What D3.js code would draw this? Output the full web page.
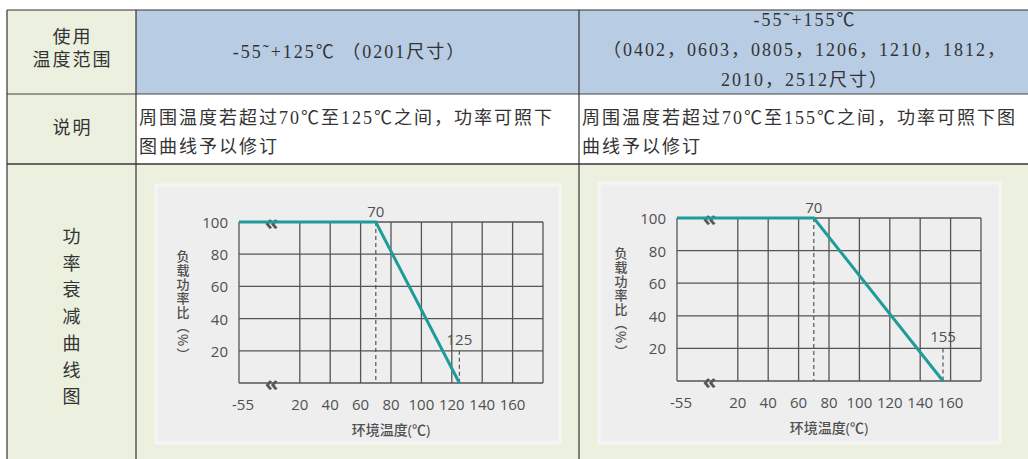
<!DOCTYPE html>
<html>
<head>
<meta charset="utf-8">
<script src="https://cdn.jsdelivr.net/npm/d3@7"></script>
<style>
  html, body { margin: 0; padding: 0; background: #fff; }
  svg { display: block; }
</style>
</head>
<body>
<div class="stage"></div>
<script>
// table text
var rowHeads = [["使用", "温度范围"], ["说明"], ["功","率","衰","减","曲","线","图"]];
var rangeHeads = [
  ["-55˜+125℃ （0201尺寸）"],
  ["-55˜+155℃", "（0402，0603，0805，1206，1210，1812，", "2010，2512尺寸）"]
];
var notes = [
  ["周围温度若超过70℃至125℃之间，功率可照下", "图曲线予以修订"],
  ["周围温度若超过70℃至155℃之间，功率可照下图", "曲线予以修订"]
];

// chart values
var xGrid = [-55, 20, 40, 60, 80, 100, 120, 140, 160, 180];
var xTicks = [-55, 20, 40, 60, 80, 100, 120, 140, 160];
var yGrid = [0, 20, 40, 60, 80, 100];
var yTicks = [20, 40, 60, 80, 100];
var kneeTemp = 70;
var breakTemp = -15;
var curve125 = [{t: -55, p: 100}, {t: 70, p: 100}, {t: 125, p: 0}];
var curve155 = [{t: -55, p: 100}, {t: 70, p: 100}, {t: 155, p: 0}];
var yTitle = "负载功率比（%）";
var xTitle = "环境温度(℃)";

var W = 1028, H = 459;
var tableFont = "'Liberation Serif', 'Noto Sans CJK SC', serif";
var chartFont = "'Open Sans', 'Noto Sans CJK SC', sans-serif";

var svg = d3.select(".stage").append("svg")
  .attr("width", W).attr("height", H);

// columns and rows of the table
var colX = [7, 136, 579, 1031];
var rowY = [10, 94, 164, 470];

// backgrounds
svg.append("rect").attr("x", colX[0]).attr("y", rowY[0])
  .attr("width", colX[1]-colX[0]).attr("height", rowY[3]-rowY[0]).attr("fill", "#ebf0df");
svg.append("rect").attr("x", colX[1]).attr("y", rowY[0])
  .attr("width", colX[3]-colX[1]).attr("height", rowY[1]-rowY[0]).attr("fill", "#b8cce4");
svg.append("rect").attr("x", colX[1]).attr("y", rowY[2])
  .attr("width", colX[3]-colX[1]).attr("height", rowY[3]-rowY[2]).attr("fill", "#ecf1df");

// grid lines of the table
svg.append("line").attr("x1", colX[0]).attr("x2", W).attr("y1", rowY[0]).attr("y2", rowY[0])
  .attr("stroke", "#333").attr("stroke-width", 1.2);
svg.append("line").attr("x1", colX[0]).attr("x2", W).attr("y1", rowY[1]).attr("y2", rowY[1])
  .attr("stroke", "#444").attr("stroke-width", 1.2);
svg.append("line").attr("x1", colX[0]).attr("x2", W).attr("y1", rowY[2]).attr("y2", rowY[2])
  .attr("stroke", "#666").attr("stroke-width", 2);
colX.slice(0, 3).forEach(function(x){
  svg.append("line").attr("x1", x).attr("x2", x).attr("y1", rowY[0]).attr("y2", H)
    .attr("stroke", "#333").attr("stroke-width", 1.2);
});

function tableText(x, y, s, anchor){
  return svg.append("text").attr("x", x).attr("y", y)
    .attr("text-anchor", anchor || "middle").attr("font-size", 18).attr("fill", "#333")
    .attr("letter-spacing", 2)
    .attr("font-family", tableFont).text(s);
}

var cx0 = (colX[0] + colX[1]) / 2 + 1;
// row heads
rowHeads[0].forEach(function(s, i){ tableText(cx0, 43 + i*23, s) });
tableText(cx0, 134, rowHeads[1][0]);
rowHeads[2].forEach(function(s, i){
  tableText(cx0, 237 + i*26.7, s).attr("dominant-baseline", "central");
});

// range heads
rangeHeads.forEach(function(lines, c){
  var mid = (colX[c+1] + colX[c+2]) / 2;
  var top = lines.length == 1 ? 58 : 26;
  lines.forEach(function(s, i){
    tableText(mid + (c == 0 ? -8 : 0), top + i*30, s);
  });
});

// notes
notes.forEach(function(lines, c){
  lines.forEach(function(s, i){
    tableText(colX[c+1] + 3, 124 + i*29, s, "start");
  });
});

// charts
drawChart({panel: [156, 185, 404, 258], plot: [239, 543, 222, 383], curve: curve125});
drawChart({panel: [599, 183, 401, 260], plot: [677, 981, 218, 381], curve: curve155});

function drawChart(o){
  var g = svg.append("g");
  g.append("rect")
    .attr("x", o.panel[0]).attr("y", o.panel[1])
    .attr("width", o.panel[2]).attr("height", o.panel[3])
    .attr("fill", "#eeeeee").attr("stroke", "#f5f5f5").attr("stroke-width", 3);

  var p = o.plot;
  var cell = (p[1] - p[0]) / (xGrid.length);
  var x = d3.scaleLinear().domain([-55, 20, 180]).range([p[0], p[0] + 2*cell, p[1]]);
  var y = d3.scaleLinear().domain([0, 100]).range([p[3], p[2]]);

  g.selectAll(".vg").data(xGrid).enter().append("line")
    .attr("x1", x).attr("x2", x).attr("y1", y(0)).attr("y2", y(100))
    .attr("stroke", "#555").attr("stroke-width", 1.3);
  g.selectAll(".hg").data(yGrid).enter().append("line")
    .attr("x1", x(-55)).attr("x2", x(180))
    .attr("y1", y).attr("y2", y)
    .attr("stroke", "#555").attr("stroke-width", 1.3);

  var end = o.curve[o.curve.length - 1].t;
  // dashed guides
  g.append("line").attr("x1", x(kneeTemp)).attr("x2", x(kneeTemp))
    .attr("y1", y(100)).attr("y2", y(0))
    .attr("stroke", "#555").attr("stroke-width", 1.2).attr("stroke-dasharray", "4,3");
  g.append("line").attr("x1", x(end)).attr("x2", x(end))
    .attr("y1", y(20)).attr("y2", y(0))
    .attr("stroke", "#555").attr("stroke-width", 1.2).attr("stroke-dasharray", "4,3");

  // axis break marks
  g.selectAll(".brk").data([0, 100]).enter().append("text")
    .attr("x", x(breakTemp)).attr("y", function(d){ return y(d) - 1 })
    .attr("dominant-baseline", "central").attr("text-anchor", "middle")
    .attr("font-size", 22).attr("font-weight", "bold").attr("fill", "#555")
    .attr("font-family", chartFont).text("«");

  // derating curve
  g.append("path").datum(o.curve)
    .attr("d", d3.line().x(function(d){ return x(d.t) }).y(function(d){ return y(d.p) }))
    .attr("fill", "none").attr("stroke", "#1e9c9a").attr("stroke-width", 3);

  // tick labels
  g.selectAll(".xt").data(xTicks).enter().append("text")
    .attr("x", function(d){ return x(d) + (d == -55 ? 4 : 0) }).attr("y", y(0) + 27)
    .attr("text-anchor", "middle").attr("font-size", 15).attr("font-weight", 500).attr("fill", "#505050")
    .attr("font-family", chartFont).text(function(d){ return d });
  g.selectAll(".yt").data(yTicks).enter().append("text")
    .attr("x", x(-55) - 11).attr("y", y).attr("dominant-baseline", "central")
    .attr("text-anchor", "end").attr("font-size", 15).attr("font-weight", 500).attr("fill", "#505050")
    .attr("font-family", chartFont).text(function(d){ return d });

  g.append("text").attr("x", x(kneeTemp)).attr("y", y(100) - 5)
    .attr("text-anchor", "middle").attr("font-size", 15).attr("font-weight", 500).attr("fill", "#505050")
    .attr("font-family", chartFont).text(kneeTemp);
  g.append("text").attr("x", x(end)).attr("y", y(20) - 6)
    .attr("text-anchor", "middle").attr("font-size", 15).attr("font-weight", 500).attr("fill", "#505050")
    .attr("font-family", chartFont).text(end);

  // titles
  g.append("text").attr("x", (p[0] + p[1]) / 2).attr("y", y(0) + 52)
    .attr("text-anchor", "middle").attr("font-size", 14).attr("font-weight", 500).attr("fill", "#505050")
    .attr("font-family", chartFont).text(xTitle);

  g.append("text")
    .attr("x", p[0] - 56).attr("y", (p[2] + p[3]) / 2 + 3)
    .attr("text-anchor", "middle").attr("font-size", 13).attr("font-weight", 500)
    .attr("letter-spacing", 1).attr("fill", "#505050")
    .style("writing-mode", "vertical-rl")
    .attr("font-family", "'Noto Sans CJK SC', sans-serif").text(yTitle);
}
</script>
</body>
</html>
